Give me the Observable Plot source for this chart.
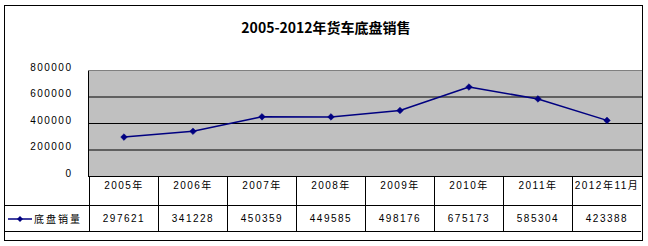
<!DOCTYPE html>
<html>
<head>
<meta charset="utf-8">
<script src="https://cdn.jsdelivr.net/npm/d3@7"></script>
<script src="https://cdn.jsdelivr.net/npm/@observablehq/plot@0.6"></script>
<style>
  html, body { margin: 0; padding: 0; background: #fff; }
  body { width: 648px; height: 246px; position: relative; overflow: hidden; }
  #frame { position: absolute; left: 4px; top: 5px; width: 639px; height: 236px; box-sizing: border-box; border: 1px solid #000; }
  #title { position: absolute; left: 0; width: 652px; top: 17px; text-align: center; font: bold 14px "Noto Sans CJK SC", sans-serif; line-height: 20px; color: #000; }
  #chart { position: absolute; left: 0; top: 0; }
  .cell { position: absolute; box-sizing: border-box; font: 10px "Liberation Sans", "Noto Sans CJK SC", sans-serif; letter-spacing: 1.5px; line-height: 12px; color: #000; text-align: center; white-space: nowrap; }
  .hdr { border-left: 1px solid #000; padding-top: 4px; }
  .val { border-left: 1px solid #000; border-top: 1px solid #000; border-bottom: 1px solid #000; padding-top: 7px; }
  .key { border-top: 1px solid #000; border-bottom: 1px solid #000; text-align: left; padding-top: 7px; font-family: "Noto Sans CJK SC", sans-serif; letter-spacing: 2px; }
  .key svg { vertical-align: middle; margin-right: 2px; margin-left: 4px; position: relative; top: -1px; }
</style>
</head>
<body>
<div id="frame"></div>
<div id="title"></div>
<div id="chart"></div>
<div id="table"></div>
<script>
const chartTitle = "2005-2012年货车底盘销售";
const seriesName = "底盘销量";
const categories = ["2005年", "2006年", "2007年", "2008年", "2009年", "2010年", "2011年", "2012年11月"];
const sales = [297621, 341228, 450359, 449585, 498176, 675173, 585304, 423388];
const yTicks = [0, 200000, 400000, 600000, 800000];

const data = categories.map((c, i) => ({category: c, value: sales[i]}));
const navy = "#000080";

document.getElementById("title").textContent = chartTitle;

const chart = Plot.plot({
  width: 648,
  height: 178,
  marginTop: 70,
  marginBottom: 2,
  marginLeft: 88,
  marginRight: 6,
  style: {fontFamily: "Liberation Sans, sans-serif", fontSize: "10px", letterSpacing: "1.5px", color: "#000", background: "transparent"},
  x: {type: "band", domain: categories, padding: 0, axis: null},
  y: {domain: [0, 800000], ticks: yTicks, tickSize: 0, tickPadding: 16, tickFormat: d => String(d), label: null},
  marks: [
    Plot.frame({fill: "#c0c0c0", stroke: "#000"}),
    Plot.ruleY(yTicks.filter(t => t > 0 && t < 800000), {stroke: "#000"}),
    Plot.ruleY([800000], {stroke: "#808080"}),
    Plot.axisY({ticks: yTicks, tickSize: 0, tickPadding: 16, tickFormat: d => String(d), label: null, dy: -3}),
    Plot.line(data, {x: "category", y: "value", stroke: navy, strokeWidth: 1.5}),
    Plot.dot(data, {x: "category", y: "value", symbol: "diamond2", r: 3, fill: navy, stroke: navy, strokeWidth: 0.5})
  ]
});
document.getElementById("chart").appendChild(chart);

// Data table below the plot, columns aligned to the plot's x scale
const xs = chart.scale("x");
const bw = xs.bandwidth;
const table = document.getElementById("table");
const headerTop = 176, valueTop = 205, rowH1 = 29, rowH2 = 27;

categories.forEach((c, i) => {
  const left = xs.apply(c);
  const h = document.createElement("div");
  h.className = "cell hdr";
  Object.assign(h.style, {left: left + "px", top: headerTop + "px", width: bw + "px", height: rowH1 + "px"});
  h.textContent = c;
  table.appendChild(h);
  const v = document.createElement("div");
  v.className = "cell val";
  Object.assign(v.style, {left: left + "px", top: valueTop + "px", width: bw + "px", height: rowH2 + "px"});
  v.textContent = String(sales[i]);
  table.appendChild(v);
});

const key = document.createElement("div");
key.className = "cell key";
Object.assign(key.style, {left: "4px", top: valueTop + "px", width: (xs.apply(categories[0]) - 4) + "px", height: rowH2 + "px"});
key.innerHTML = '<svg width="24" height="8"><line x1="0" y1="4" x2="24" y2="4" stroke="' + navy + '" stroke-width="1.5"/><path d="M12,1L15,4L12,7L9,4Z" fill="' + navy + '"/></svg>';
key.appendChild(document.createTextNode(seriesName));
table.appendChild(key);
</script>
</body>
</html>
